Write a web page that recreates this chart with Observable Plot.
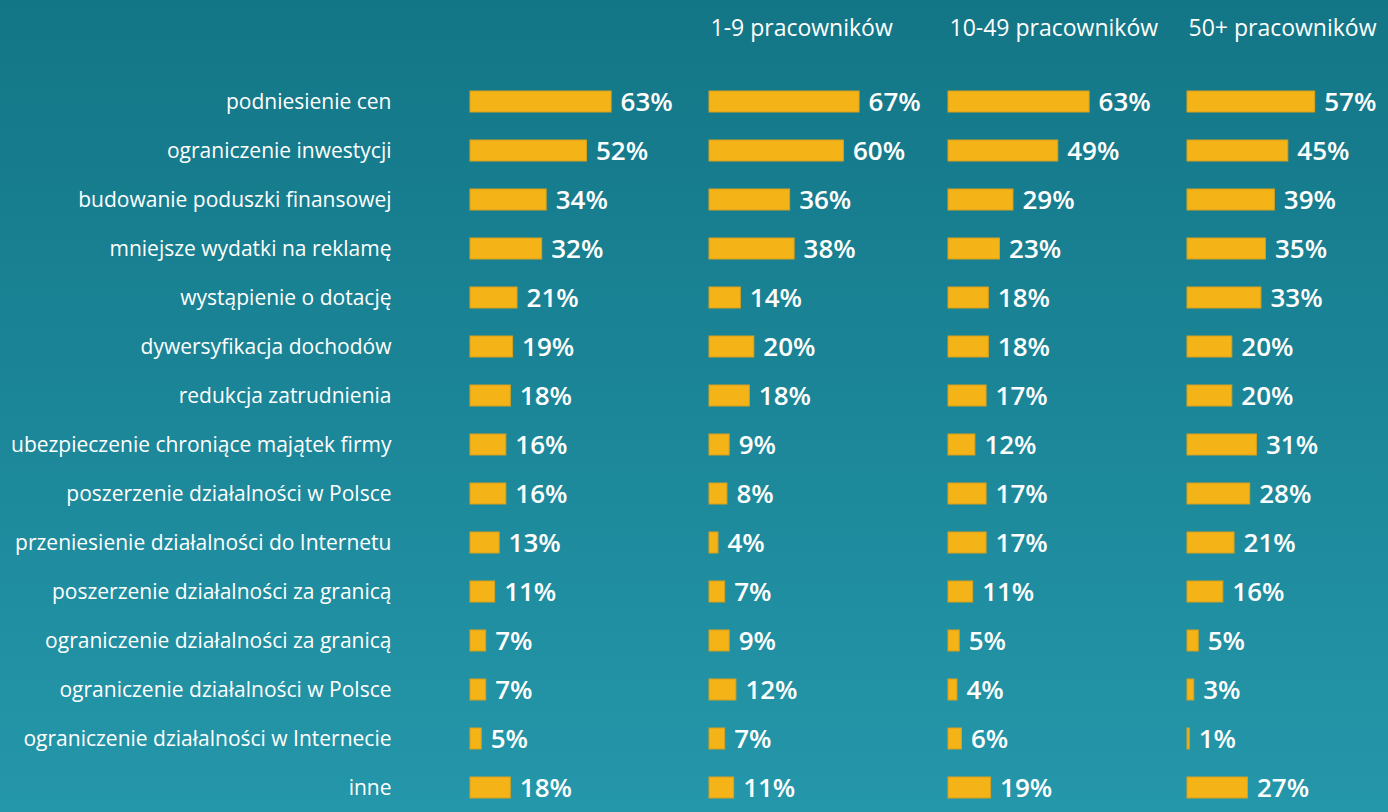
<!DOCTYPE html>
<html>
<head>
<meta charset="utf-8">
<script src="https://cdn.jsdelivr.net/npm/d3@7"></script>
<script src="https://cdn.jsdelivr.net/npm/@observablehq/plot@0.6"></script>
<style>
  html, body { margin: 0; padding: 0; }
  body {
    width: 1388px; height: 812px; overflow: hidden;
    background: linear-gradient(to bottom, #137686 0%, #1b8698 50%, #2597aa 100%);
  }
  svg { display: block; }
</style>
</head>
<body>
<div id="chart"></div>
<script>
const categories = [
  "podniesienie cen",
  "ograniczenie inwestycji",
  "budowanie poduszki finansowej",
  "mniejsze wydatki na reklamę",
  "wystąpienie o dotację",
  "dywersyfikacja dochodów",
  "redukcja zatrudnienia",
  "ubezpieczenie chroniące majątek firmy",
  "poszerzenie działalności w Polsce",
  "przeniesienie działalności do Internetu",
  "poszerzenie działalności za granicą",
  "ograniczenie działalności za granicą",
  "ograniczenie działalności w Polsce",
  "ograniczenie działalności w Internecie",
  "inne"
];
const groups = ["ogółem", "1-9 pracowników", "10-49 pracowników", "50+ pracowników"];
const headerLabels = ["", "1-9 pracowników", "10-49 pracowników", "50+ pracowników"];
const totalValues = [63, 52, 34, 32, 21, 19, 18, 16, 16, 13, 11, 7, 7, 5, 18];
const small1to9 = [67, 60, 36, 38, 14, 20, 18, 9, 8, 4, 7, 9, 12, 7, 11];
const mid10to49 = [63, 49, 29, 23, 18, 18, 17, 12, 17, 17, 11, 5, 4, 6, 19];
const large50plus = [57, 45, 39, 35, 33, 20, 20, 31, 28, 21, 16, 5, 3, 1, 27];

const series = [totalValues, small1to9, mid10to49, large50plus];
const data = categories.flatMap((c, i) =>
  groups.map((g, j) => ({category: c, group: g, value: series[j][i]}))
);
const headers = groups.map((g, j) => ({group: g, label: headerLabels[j]})).filter(d => d.label);

const chart = Plot.plot({
  width: 1388,
  height: 812,
  marginLeft: 470,
  marginRight: -38,
  marginTop: 70,
  marginBottom: -6,
  style: {background: "transparent", color: "white", fontFamily: "'Open Sans', sans-serif", fontSize: "21px"},
  fx: {domain: groups, padding: 0, axis: null},
  x: {domain: [0, 106.7], axis: null},
  y: {domain: categories, paddingInner: 0.58, paddingOuter: 0.29, axis: null},
  marks: [
    Plot.axisY({anchor: "left", tickSize: 0, tickPadding: 79, label: null, fontSize: 21, fill: "white"}),
    Plot.barX(data, {fx: "group", y: "category", x: "value", fill: "#f4b316", stroke: "#d9a01c", strokeWidth: 1}),
    Plot.text(data, {fx: "group", y: "category", x: "value", text: d => d.value + "%", textAnchor: "start", dx: 9, dy: 1, fill: "white", fontSize: 26, fontWeight: 600}),
    Plot.text(headers, {fx: "group", text: "label", frameAnchor: "top-left", lineAnchor: "middle", textAnchor: "start", dx: 1, dy: -42, fill: "white", fontSize: 23})
  ]
});
document.getElementById("chart").appendChild(chart);
</script>
</body>
</html>
